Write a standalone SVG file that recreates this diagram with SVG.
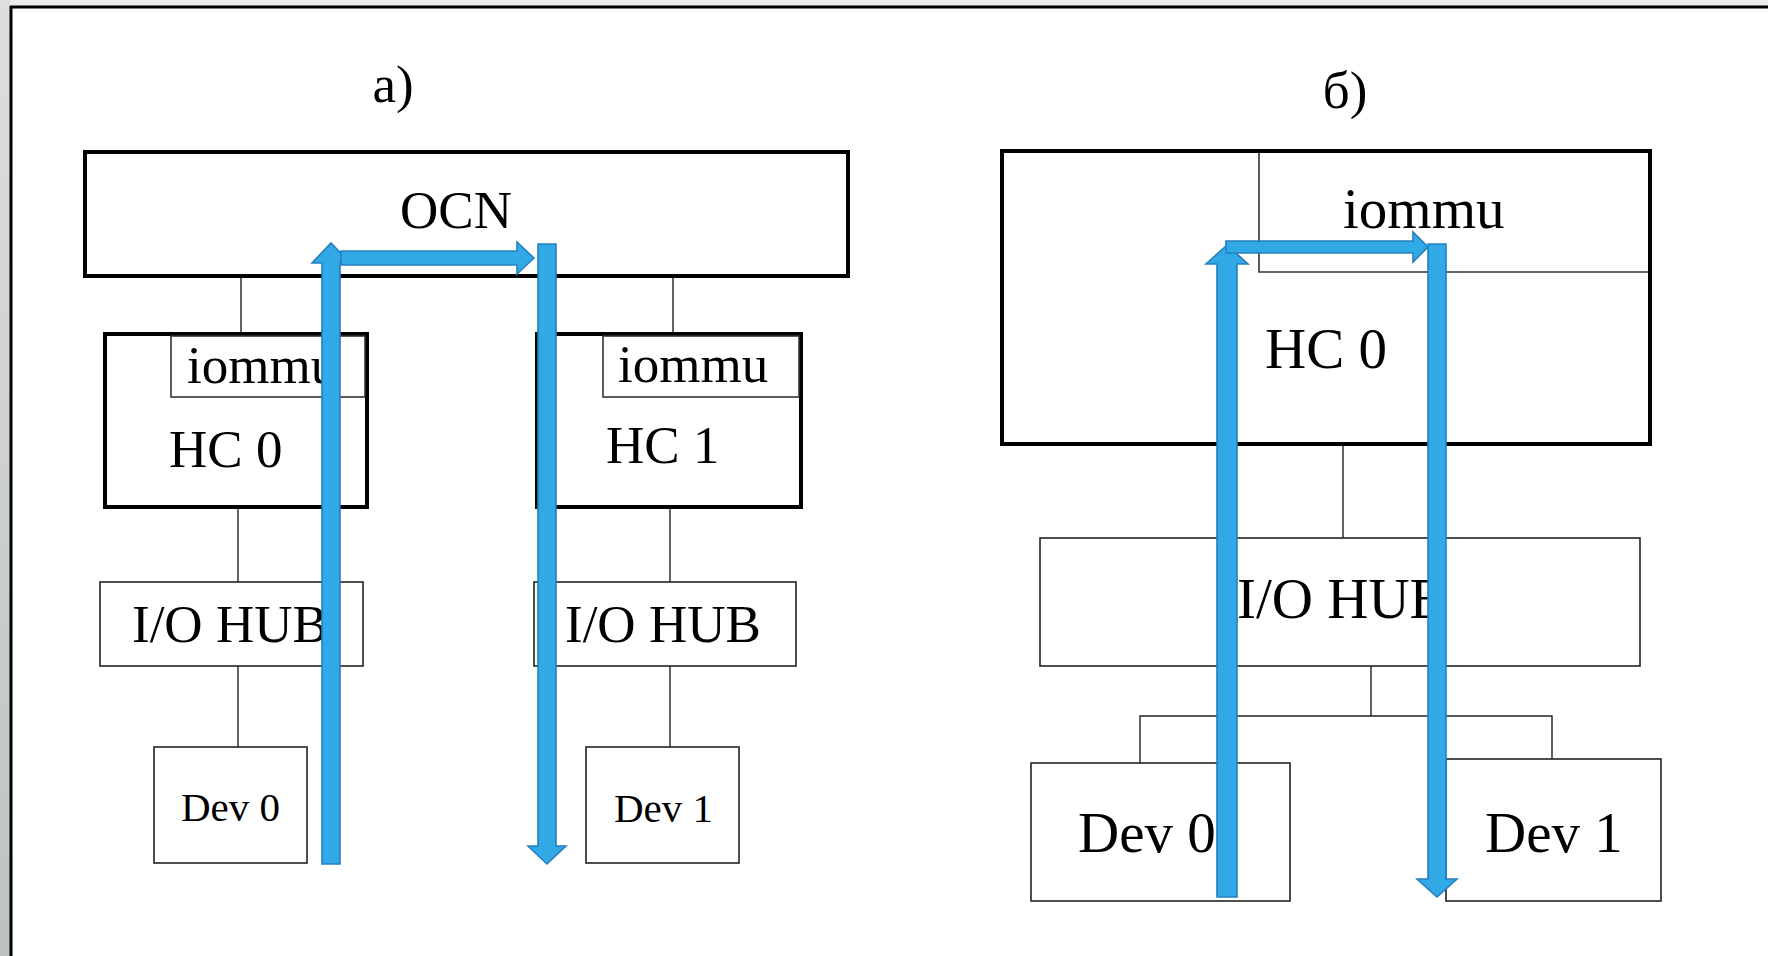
<svg xmlns="http://www.w3.org/2000/svg" width="1768" height="956" viewBox="0 0 1768 956">
  <defs>
    <linearGradient id="sideGrad" x1="0" y1="0" x2="0" y2="1">
      <stop offset="0" stop-color="#dedede"/>
      <stop offset="1" stop-color="#bcc2c3"/>
    </linearGradient>
    <style>
      .thick { fill: #fff; stroke: #000; stroke-width: 4; }
      .thin { fill: #fff; stroke: #222; stroke-width: 1.6; }
      .sub { fill: none; stroke: #333; stroke-width: 1.6; }
      .wire { fill: none; stroke: #222; stroke-width: 1.4; }
      .lbl { font-family: "Liberation Serif", "Times New Roman", serif; font-size: 53px; fill: #000; }
      .small { font-size: 41px; }
      .mid { font-size: 57px; }
      .flow { fill: #31a9e6; stroke: #2580bd; stroke-width: 1.6; stroke-linejoin: miter; }
    </style>
  </defs>

  <!-- page background and frame -->
  <rect x="0" y="0" width="1768" height="956" fill="#fff"/>
  <rect x="0" y="0" width="1768" height="6" fill="#ededed"/>
  <rect x="0" y="0" width="10" height="956" fill="url(#sideGrad)"/>
  <line x1="10" y1="7" x2="1768" y2="7" stroke="#000" stroke-width="3"/>
  <line x1="11" y1="6" x2="11" y2="956" stroke="#000" stroke-width="3"/>

  <!-- panel captions -->
  <text class="lbl" x="393" y="102" text-anchor="middle">a)</text>
  <text class="lbl" x="1345" y="108" text-anchor="middle">б)</text>

  <!-- connectors -->
  <g id="connectors">
    <!-- panel a -->
    <line class="wire" x1="241" y1="277" x2="241" y2="334"/>
    <line class="wire" x1="673" y1="277" x2="673" y2="334"/>
    <line class="wire" x1="238" y1="507" x2="238" y2="582"/>
    <line class="wire" x1="670" y1="507" x2="670" y2="582"/>
    <line class="wire" x1="238" y1="666" x2="238" y2="747"/>
    <line class="wire" x1="670" y1="666" x2="670" y2="747"/>
    <!-- panel b -->
    <line class="wire" x1="1343" y1="444" x2="1343" y2="538"/>
    <polyline class="wire" points="1371,666 1371,716"/>
    <polyline class="wire" points="1140,763 1140,716 1552,716 1552,759"/>
  </g>

  <!-- panel a nodes -->
  <g id="ocn">
    <rect class="thick" x="85" y="152" width="763" height="124"/>
    <text class="lbl" x="456" y="228" text-anchor="middle">OCN</text>
  </g>
  <g id="hc0-a">
    <rect class="thick" x="105" y="334" width="262" height="173"/>
    <rect class="sub" x="171" y="336" width="194" height="61"/>
    <text class="lbl" x="187" y="383">iommu</text>
    <text class="lbl" x="169" y="467">HC 0</text>
  </g>
  <g id="hc1-a">
    <rect class="thick" x="537" y="334" width="264" height="173"/>
    <rect class="sub" x="603" y="336" width="196" height="61"/>
    <text class="lbl" x="618" y="382">iommu</text>
    <text class="lbl" x="606" y="463">HC 1</text>
  </g>
  <g id="iohub0-a">
    <rect class="thin" x="100" y="582" width="263" height="84"/>
    <text class="lbl" x="132" y="642">I/O HUB</text>
  </g>
  <g id="iohub1-a">
    <rect class="thin" x="534" y="582" width="262" height="84"/>
    <text class="lbl" x="565" y="642">I/O HUB</text>
  </g>
  <g id="dev0-a">
    <rect class="thin" x="154" y="747" width="153" height="116"/>
    <text class="lbl small" x="181" y="821">Dev 0</text>
  </g>
  <g id="dev1-a">
    <rect class="thin" x="586" y="747" width="153" height="116"/>
    <text class="lbl small" x="614" y="822">Dev 1</text>
  </g>

  <!-- panel b nodes -->
  <g id="hc0-b">
    <rect class="thick" x="1002" y="151" width="648" height="293"/>
    <polyline class="sub" points="1259,153 1259,272 1648,272"/>
    <text class="lbl mid" x="1343" y="228">iommu</text>
    <text class="lbl mid" x="1265" y="368">HC 0</text>
  </g>
  <g id="iohub-b">
    <rect class="thin" x="1040" y="538" width="600" height="128"/>
    <text class="lbl mid" x="1237" y="618">I/O HUB</text>
  </g>
  <g id="dev0-b">
    <rect class="thin" x="1031" y="763" width="259" height="138"/>
    <text class="lbl mid" x="1078" y="852">Dev 0</text>
  </g>
  <g id="dev1-b">
    <rect class="thin" x="1446" y="759" width="215" height="142"/>
    <text class="lbl mid" x="1485" y="852">Dev 1</text>
  </g>

  <!-- data paths -->
  <g id="flows">
    <!-- panel a -->
    <polygon class="flow" points="322,864 322,263 312,263 331,243 350,263 340,263 340,864"/>
    <polygon class="flow" points="341,251 517,251 517,242 534,258 517,274 517,265 341,265"/>
    <polygon class="flow" points="538,244 556,244 556,846 566,846 547,864 528,846 538,846"/>
    <!-- panel b -->
    <polygon class="flow" points="1217,897 1217,264 1206,264 1227,245 1248,264 1237,264 1237,897"/>
    <polygon class="flow" points="1226,241 1413,241 1413,232 1428,247 1413,262 1413,253 1226,253"/>
    <polygon class="flow" points="1428,244 1446,244 1446,879 1457,879 1437,897 1417,879 1428,879"/>
  </g>
</svg>
